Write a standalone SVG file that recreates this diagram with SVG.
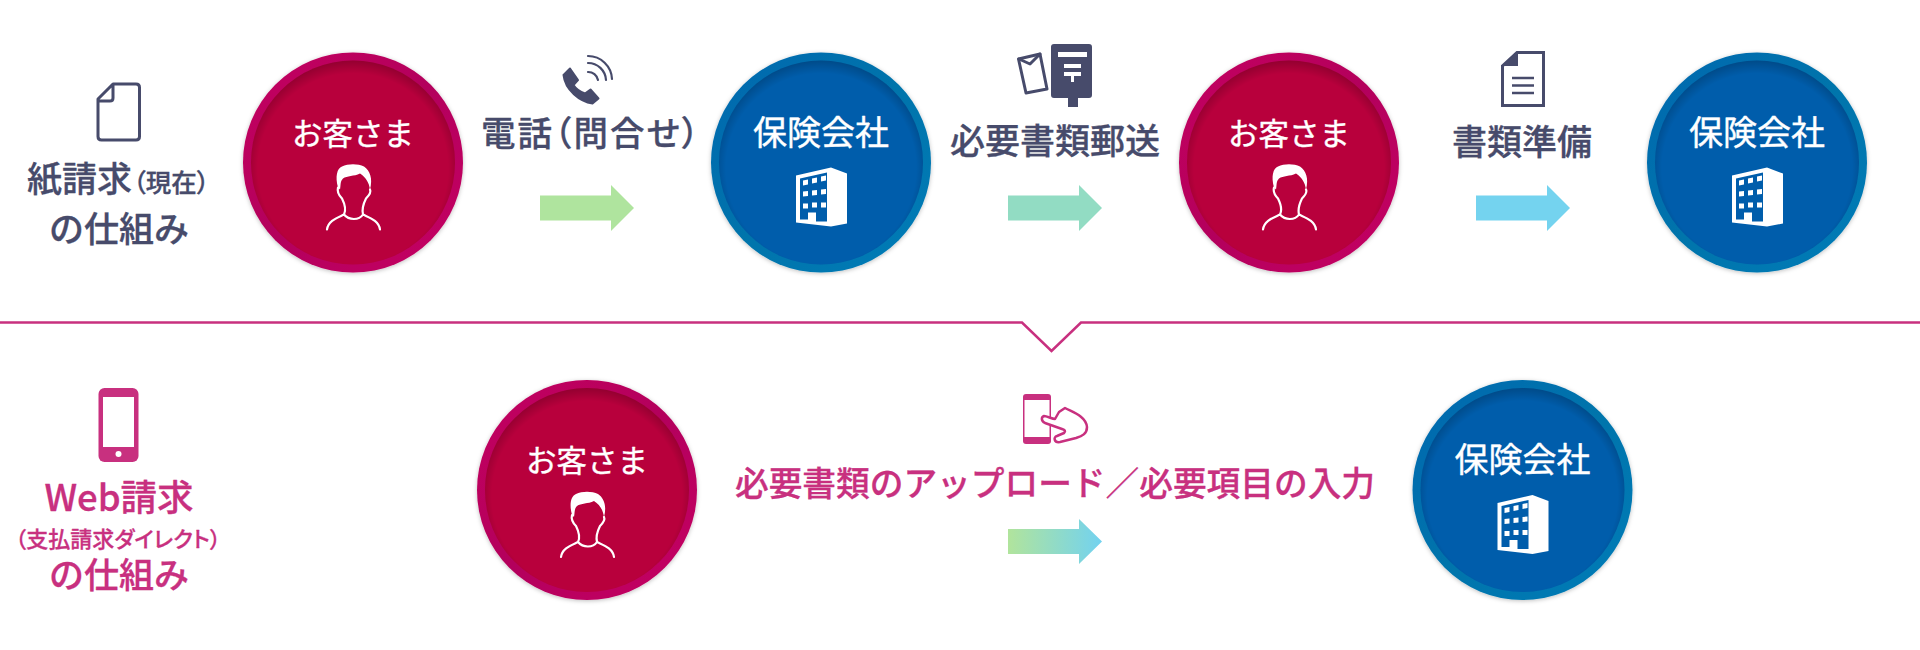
<svg xmlns="http://www.w3.org/2000/svg" width="1920" height="650" viewBox="0 0 1920 650">
<style>
text{font-family:"Noto Sans CJK JP","Noto Sans",sans-serif;font-weight:500;text-anchor:middle;stroke-linejoin:round}
.d{fill:#474b6b;stroke:#474b6b;stroke-width:.3}.m{fill:#c8307f;stroke:#c8307f;stroke-width:.3}.w{fill:#fff;font-size:30.500px;font-weight:400;stroke:#fff;stroke-width:.4}
.t{font-size:35px}.p{font-feature-settings:"palt"}
.ol{fill:none;stroke:#474b6b;stroke-width:3;stroke-linejoin:round;stroke-linecap:round}
</style>
<defs>
<linearGradient id="rimR" x1="0" y1="0" x2="1" y2="1"><stop offset="0" stop-color="#c4005f"/><stop offset=".5" stop-color="#b3005c"/><stop offset="1" stop-color="#c60064"/></linearGradient>
<linearGradient id="rimB" x1="0" y1="0" x2="1" y2="1"><stop offset="0" stop-color="#0068b0"/><stop offset=".5" stop-color="#0074ab"/><stop offset="1" stop-color="#007cb8"/></linearGradient>
<radialGradient id="shade" cx=".5" cy=".53" r=".53"><stop offset=".88" stop-color="#000" stop-opacity="0"/><stop offset="1" stop-color="#000" stop-opacity=".2"/></radialGradient>
<linearGradient id="mix"><stop offset="0" stop-color="#b1e49c"/><stop offset="1" stop-color="#72d2f0"/></linearGradient>
<filter id="ds" x="-10%" y="-10%" width="120%" height="120%"><feDropShadow dx="0" dy="1" stdDeviation="2" flood-color="#000" flood-opacity=".25"/></filter>
<g id="person">
<path fill="#fff" d="M12,23C9,12 11,4 16,2C22,-1 32,-1 38,2C44,6 47,14 44,25C43,18 40,13 34,9C28,12 21,11 17,14C14,17 15,20 14,25Z"/>
<path fill="none" stroke="#fff" stroke-width="2.200" stroke-linecap="round" d="M1,65C2,56 12,53 18,50C20,46 19,40 16,34C12,30 11,27 12,23M18,50C23,56 33,56 37,50M54,65C53,56 43,53 37,50C36,46 37,40 40,34C44,30 45,27 44,25"/>
</g>
<g id="bld">
<path fill="#fff" d="M0,8L35,0L51,6V56L35,59L0,55Z"/>
<path fill="#005dab" d="M4,11L31,5V54H20V45H12V52H4Z"/>
<path fill="#fff" d="M7,13l5,-1v5l-5,1zM16,11l5,-1v5l-5,1zM25,9l5,-1v5l-5,1zM7,24l5,-.5v5l-5,.5zM16,23l5,-.5v5l-5,.5zM25,22l5,-.5v5l-5,.5zM7,36h5v5h-5zM16,35h5v5h-5zM25,35h5v5h-5z"/>
</g>
<g id="red"><circle r="110" fill="url(#rimR)" filter="url(#ds)"/><circle r="102" fill="#b8003c"/><circle r="102" fill="url(#shade)"/><use href="#person" x="-27" y="2"/><text class="w" y="-18">お客さま</text></g>
<g id="blue"><circle r="110" fill="url(#rimB)" filter="url(#ds)"/><circle r="102" fill="#005dab"/><circle r="102" fill="url(#shade)"/><use href="#bld" x="-25" y="5"/><text class="w" y="-18" style="font-size:34px">保険会社</text></g>
<path id="arr" d="M0,-12.500H71V-23L94,0L71,23V12.500H0Z"/>
</defs>
<rect width="1920" height="650" fill="#fff"/>
<g id="connectors">
<path id="divider" fill="none" stroke="#c8307f" stroke-width="2.500" d="M0,322.500H1022L1051.500,351L1081,322.500H1920"/>
<use href="#arr" x="540" y="208" fill="#afe49e"/>
<use href="#arr" x="1008" y="208" fill="#92dcc3"/>
<use href="#arr" x="1476" y="208" fill="#74d3ef"/>
<path d="M1008,529H1079V519L1102,541.500L1079,564V554H1008Z" fill="url(#mix)"/>
</g>
<g id="label-paper">
<path class="ol" d="M113,84H136Q139.500,84 139.500,87.500V136.500Q139.500,140 136,140H101.500Q98,140 98,136.500V99ZM98,101H110Q113,101 113,98V85"/>
<text class="d t" x="27" y="192" style="text-anchor:start">紙請求<tspan class="p" style="font-size:25.500px" dx="1">（現在）</tspan></text>
<text class="d t" x="119" y="242">の仕組み</text>
</g>
<g id="label-web">
<rect x="98.500" y="388" width="40" height="74" rx="6" class="m" style="stroke:none"/><rect x="103" y="397" width="31" height="50" fill="#fff"/><circle cx="118.500" cy="454" r="3" fill="#fff"/>
<text class="m p t" x="119" y="511" style="font-size:36.500px">Web請求</text>
<text class="m p" x="118" y="547" style="font-size:22px">（支払請求ダイレクト）</text>
<text class="m t" x="119" y="588">の仕組み</text>
</g>
<g id="node-customer-1"><use href="#red" x="353" y="162.500"/></g>
<g id="node-insurer-1"><use href="#blue" x="821" y="162.500"/></g>
<g id="node-customer-2"><use href="#red" x="1289" y="162.500"/></g>
<g id="node-insurer-2"><use href="#blue" x="1757" y="162.500"/></g>
<g id="node-customer-3"><use href="#red" x="587" y="490"/></g>
<g id="node-insurer-3"><use href="#blue" x="1522.500" y="490"/></g>
<g id="step-phone">
<path fill="#474b6b" stroke="#474b6b" stroke-width="2" stroke-linejoin="round" d="M563.500,75L570,68.500L578,80L573.500,85C576,89 581,92 585,93.500L590.500,89.500L598.500,98.500L592.500,103.500C580,102 565,90 563.500,75Z"/>
<path fill="none" stroke="#474b6b" stroke-width="2.200" stroke-linecap="round" d="M588,72A10,10 0 0 1 598,80M588,63A18,18 0 0 1 606,80M588,56A24,24 0 0 1 612,79"/>
<text class="d p t" x="590" y="146" textLength="218" style="font-size:34.500px">電話（問合せ）</text>
</g>
<g id="step-mail">
<path d="M1019,44H1090A3,3 0 0 1 1093,47V95A3,3 0 0 1 1090,98H1079V107H1069V98H1055A3,3 0 0 1 1052,95V47A3,3 0 0 1 1055,44Z" fill="#474b6b" transform="translate(-1 0)"/>
<rect x="1058" y="52" width="29" height="5" fill="#fff"/><path fill="#fff" d="M1064,64H1081V68H1064ZM1064,72H1081V76H1074V82H1071V76H1064Z"/>
<path d="M1018.500,59L1040,54L1047,89L1026,93Z" class="ol"/><path d="M1019,59L1030,64L1040,54" class="ol"/>
<text class="d" x="1055" y="154" style="font-size:35px">必要書類郵送</text>
</g>
<g id="step-docs">
<path fill="none" stroke="#474b6b" stroke-width="3" d="M1517,52.500H1543.500V105.500H1502.500V66Z"/>
<path d="M1502,66L1518,51V66Z" fill="#474b6b"/>
<path fill="none" stroke="#474b6b" stroke-width="2.500" d="M1512,78H1534M1512,85.500H1534M1512,93H1534"/>
<text class="d" x="1522" y="155" style="font-size:35px">書類準備</text>
</g>
<g id="step-upload">
<rect x="1023" y="394" width="28" height="50" rx="3" fill="#c8307f"/><rect x="1024.500" y="400" width="25" height="37" fill="#fff"/>
<path fill="#fff" stroke="#c8307f" stroke-width="2.500" stroke-linejoin="round" d="M1044,416C1047,416 1052,419 1055,419L1059,412L1065,408C1072,412 1086,416 1087,427C1087,434 1082,436 1076,438L1060,442C1054,443 1053,437 1057,436L1064,433C1066,431 1065,430 1062,429L1045,423C1041,421 1041,417 1044,416Z"/>
<text class="m" x="1055" y="496" style="font-size:33.700px">必要書類のアップロード／必要項目の入力</text>
</g>
</svg>
